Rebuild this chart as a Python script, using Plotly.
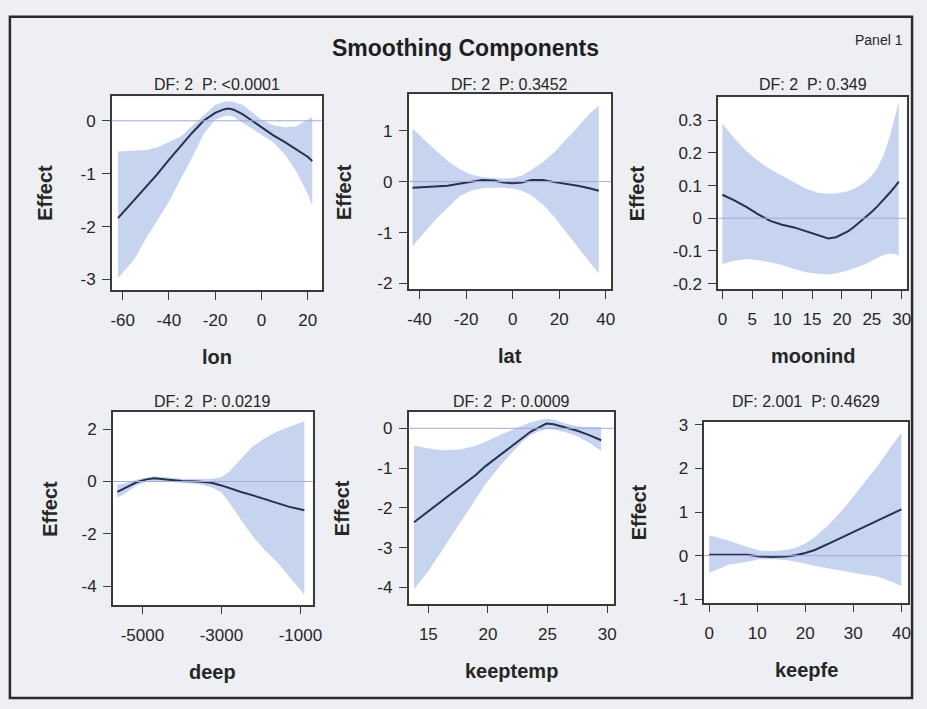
import plotly.graph_objects as go

# ---- smoothing component estimates (fit with upper / lower confidence limits) ----
lon_x = [-62, -55, -50, -45, -40, -35, -30, -25, -20, -16, -14, -12, -8, -4, 0, 5, 10, 15, 20, 22]
lon_fit = [-1.84, -1.50, -1.26, -1.01, -0.74, -0.48, -0.23, 0.00, 0.15, 0.22, 0.23, 0.21, 0.12, 0.00, -0.12, -0.27, -0.40, -0.54, -0.68, -0.76]
lon_upper = [-0.58, -0.57, -0.55, -0.50, -0.40, -0.30, -0.10, 0.10, 0.30, 0.36, 0.37, 0.36, 0.30, 0.16, 0.02, -0.08, -0.12, -0.11, 0.03, 0.07]
lon_lower = [-2.97, -2.62, -2.23, -1.88, -1.53, -1.11, -0.70, -0.25, 0.02, 0.09, 0.10, 0.07, -0.04, -0.14, -0.25, -0.40, -0.63, -0.95, -1.38, -1.60]

lat_x = [-43, -38, -33, -28, -23, -18, -13, -8, -4, 0, 4, 8, 13, 18, 23, 28, 33, 37]
lat_fit = [-0.12, -0.11, -0.10, -0.08, -0.04, -0.01, 0.03, 0.02, -0.02, -0.03, -0.02, 0.03, 0.03, -0.01, -0.04, -0.08, -0.13, -0.18]
lat_upper = [1.04, 0.82, 0.61, 0.41, 0.25, 0.14, 0.09, 0.07, 0.06, 0.07, 0.12, 0.23, 0.38, 0.58, 0.82, 1.07, 1.33, 1.49]
lat_lower = [-1.27, -1.00, -0.74, -0.52, -0.29, -0.18, -0.13, -0.12, -0.12, -0.14, -0.18, -0.27, -0.45, -0.70, -1.00, -1.30, -1.58, -1.80]

moon_x = [0, 2, 4, 6, 8, 10, 12, 14, 16, 17.7, 19, 20, 21, 22, 23, 24, 25, 26, 27, 28, 29, 29.5]
moon_fit = [0.072, 0.055, 0.035, 0.012, -0.008, -0.02, -0.028, -0.04, -0.053, -0.062, -0.058, -0.05, -0.04, -0.027, -0.012, 0.003, 0.02, 0.038, 0.057, 0.078, 0.1, 0.112]
moon_upper = [0.29, 0.245, 0.206, 0.175, 0.15, 0.13, 0.108, 0.09, 0.078, 0.075, 0.076, 0.079, 0.083, 0.09, 0.10, 0.113, 0.13, 0.156, 0.195, 0.25, 0.32, 0.356]
moon_lower = [-0.14, -0.13, -0.125, -0.128, -0.135, -0.143, -0.155, -0.165, -0.17, -0.172, -0.168, -0.165, -0.16, -0.153, -0.146, -0.14, -0.13, -0.12, -0.112, -0.108, -0.11, -0.115]

deep_x = [-5635, -5400, -5150, -4900, -4700, -4400, -4000, -3600, -3250, -3000, -2800, -2500, -2200, -1900, -1600, -1300, -900]
deep_fit = [-0.40, -0.22, -0.03, 0.08, 0.12, 0.08, 0.02, 0.0, -0.05, -0.15, -0.26, -0.40, -0.53, -0.68, -0.83, -0.96, -1.10]
deep_upper = [-0.12, -0.05, 0.08, 0.16, 0.20, 0.16, 0.10, 0.10, 0.10, 0.16, 0.38, 0.88, 1.35, 1.65, 1.90, 2.08, 2.30]
deep_lower = [-0.62, -0.42, -0.15, -0.02, 0.03, 0.0, -0.06, -0.10, -0.22, -0.42, -0.80, -1.48, -2.10, -2.62, -3.05, -3.60, -4.32]

kt_x = [13.8, 14.9, 16.2, 17.6, 19.0, 19.8, 21.2, 22.2, 22.9, 23.6, 24.25, 24.9, 25.5, 26.5, 27.5, 28.5, 29.5]
kt_fit = [-2.36, -2.11, -1.81, -1.50, -1.17, -0.95, -0.63, -0.40, -0.22, -0.08, 0.02, 0.12, 0.10, 0.02, -0.06, -0.17, -0.30]
kt_upper = [-0.43, -0.50, -0.55, -0.53, -0.44, -0.34, -0.14, -0.02, 0.08, 0.15, 0.20, 0.24, 0.22, 0.12, 0.05, 0.03, 0.03]
kt_lower = [-4.04, -3.63, -3.05, -2.40, -1.74, -1.40, -0.88, -0.55, -0.33, -0.17, -0.08, -0.02, -0.03, -0.10, -0.20, -0.36, -0.57]

fe_x = [0, 4, 8, 10.5, 13, 16, 18, 20, 22, 25, 28, 30, 33, 35, 38, 40]
fe_fit = [0.02, 0.02, 0.02, -0.02, -0.03, -0.02, 0.01, 0.06, 0.13, 0.28, 0.44, 0.55, 0.71, 0.81, 0.96, 1.06]
fe_upper = [0.47, 0.35, 0.20, 0.12, 0.10, 0.13, 0.18, 0.28, 0.43, 0.72, 1.08, 1.35, 1.76, 2.05, 2.52, 2.82]
fe_lower = [-0.40, -0.21, -0.14, -0.08, -0.08, -0.10, -0.14, -0.18, -0.24, -0.30, -0.36, -0.40, -0.45, -0.48, -0.60, -0.70]

variables = ["lon", "lat", "moonind", "deep", "keeptemp", "keepfe"]
stats = ["DF: 2\u00a0\u00a0P: &lt;0.0001", "DF: 2\u00a0\u00a0P: 0.3452", "DF: 2\u00a0\u00a0P: 0.349",
         "DF: 2\u00a0\u00a0P: 0.0219", "DF: 2\u00a0\u00a0P: 0.0009", "DF: 2.001\u00a0\u00a0P: 0.4629"]

# tick values and labels per panel (x then y)
x_tickvals = [[-60, -40, -20, 0, 20], [-40, -20, 0, 20, 40], [0, 5, 10, 15, 20, 25, 30],
              [-5000, -3000, -1000], [15, 20, 25, 30], [0, 10, 20, 30, 40]]
x_ticktext = [["-60", "-40", "-20", "0", "20"], ["-40", "-20", "0", "20", "40"],
              ["0", "5", "10", "15", "20", "25", "30"], ["-5000", "-3000", "-1000"],
              ["15", "20", "25", "30"], ["0", "10", "20", "30", "40"]]
y_tickvals = [[-3, -2, -1, 0], [-2, -1, 0, 1], [-0.2, -0.1, 0, 0.1, 0.2, 0.3],
              [-4, -2, 0, 2], [-4, -3, -2, -1, 0], [-1, 0, 1, 2, 3]]
y_ticktext = [["-3", "-2", "-1", "0"], ["-2", "-1", "0", "1"], ["-0.2", "-0.1", "0", "0.1", "0.2", "0.3"],
              ["-4", "-2", "0", "2"], ["-4", "-3", "-2", "-1", "0"], ["-1", "0", "1", "2", "3"]]

series = [
    (lon_x, lon_fit, lon_upper, lon_lower),
    (lat_x, lat_fit, lat_upper, lat_lower),
    (moon_x, moon_fit, moon_upper, moon_lower),
    (deep_x, deep_fit, deep_upper, deep_lower),
    (kt_x, kt_fit, kt_upper, kt_lower),
    (fe_x, fe_fit, fe_upper, fe_lower),
]

# ---- page geometry (pixels) ----
W, H = 927, 709
boxes = [  # left, right, top, bottom
    (112, 324, 92, 289),
    (412, 617, 90, 288),
    (725, 916, 93, 288),
    (113, 315, 413, 609),
    (412, 620, 413, 608),
    (711, 917, 423, 607),
]
x_ranges = [[-64.7, 26], [-44.7, 42.4], [-0.7, 30.9], [-5750, -692], [13.34, 30.6], [-1.0, 41.4]]
y_ranges = [[-3.2, 0.46], [-2.11, 1.71], [-0.217, 0.37], [-4.7, 2.65], [-4.41, 0.41], [-1.08, 3.07]]
effect_x = [45, 347, 643, 50, 345, 645]


def px(x):
    return x / W


def py(y):
    return 1 - y / H


FONT = "Liberation Sans, Arial, sans-serif"
TXT = "#262626"
BAND = "#c7d4ef"
FIT = "#27304f"
ZERO = "#a3a9d8"
AXIS = "#3a3a3a"

fig = go.Figure()
layout = dict(
    width=W, height=H,
    margin=dict(l=0, r=0, t=0, b=0),
    paper_bgcolor="#eeeff3",
    plot_bgcolor="white",
    showlegend=False,
    font=dict(family=FONT, color=TXT),
)
annotations = []
shapes = []

for i, ((xs, fit, up, lo), (l, r, t, b)) in enumerate(zip(series, boxes)):
    n = "" if i == 0 else str(i + 1)
    xa, ya = "x" + n, "y" + n
    fig.add_trace(go.Scatter(x=xs, y=up, mode="lines", line=dict(width=0), xaxis=xa, yaxis=ya,
                             hoverinfo="skip"))
    fig.add_trace(go.Scatter(x=xs, y=lo, mode="lines", line=dict(width=0), fill="tonexty",
                             fillcolor=BAND, xaxis=xa, yaxis=ya, hoverinfo="skip"))
    fig.add_trace(go.Scatter(x=xs, y=fit, mode="lines", line=dict(color=FIT, width=2),
                             xaxis=xa, yaxis=ya))

    common = dict(showline=True, mirror=True, linecolor=AXIS, linewidth=1.5,
                  ticks="outside", ticklen=8, tickwidth=1.3, tickcolor=AXIS,
                  showgrid=False, zeroline=False, tickfont=dict(size=17, color=TXT, family=FONT))
    layout["xaxis" + n] = dict(domain=[px(l), px(r)], range=x_ranges[i], anchor=ya,
                               tickmode="array", tickvals=x_tickvals[i], ticktext=x_ticktext[i],
                               ticklabelstandoff=6, **common)
    layout["yaxis" + n] = dict(domain=[py(b), py(t)], range=y_ranges[i], anchor=xa,
                               tickmode="array", tickvals=y_tickvals[i], ticktext=y_ticktext[i],
                               ticklabelstandoff=3, **common)

    # reference line at zero effect
    shapes.append(dict(type="line", xref=xa + " domain", yref=ya, x0=0, x1=1, y0=0, y1=0,
                       line=dict(color=ZERO, width=1), layer="above"))

    cx = (l + r) / 2
    title_y = 80 if i < 3 else 402
    annotations.append(dict(text=stats[i], x=px(cx), y=py(title_y), xref="paper", yref="paper",
                            showarrow=False, xanchor="center", yanchor="middle",
                            font=dict(size=16, color=TXT)))
    annotations.append(dict(text="<b>%s</b>" % variables[i], x=px(cx), y=py(b + 68),
                            xref="paper", yref="paper", showarrow=False,
                            xanchor="center", yanchor="middle", font=dict(size=20, color=TXT)))
    annotations.append(dict(text="<b>Effect</b>", x=px(effect_x[i]), y=py((t + b) / 2),
                            xref="paper", yref="paper", showarrow=False, textangle=-90,
                            xanchor="center", yanchor="middle", font=dict(size=20, color=TXT)))

annotations.append(dict(text="<b>Smoothing Components</b>", x=px(470), y=py(43), xref="paper",
                        yref="paper", showarrow=False, xanchor="center", yanchor="middle",
                        font=dict(size=23, color="#1e1e1e")))
annotations.append(dict(text="Panel 1", x=px(914), y=py(35), xref="paper", yref="paper",
                        showarrow=False, xanchor="right", yanchor="middle",
                        font=dict(size=14, color=TXT)))

# outer frame
shapes.append(dict(type="rect", xref="paper", yref="paper", x0=px(9), x1=px(921),
                   y0=py(704), y1=py(11), line=dict(color="#2b2b2b", width=2.5),
                   fillcolor="rgba(0,0,0,0)", layer="above"))

layout["annotations"] = annotations
layout["shapes"] = shapes
fig.update_layout(**layout)
fig.write_html("out.html")
